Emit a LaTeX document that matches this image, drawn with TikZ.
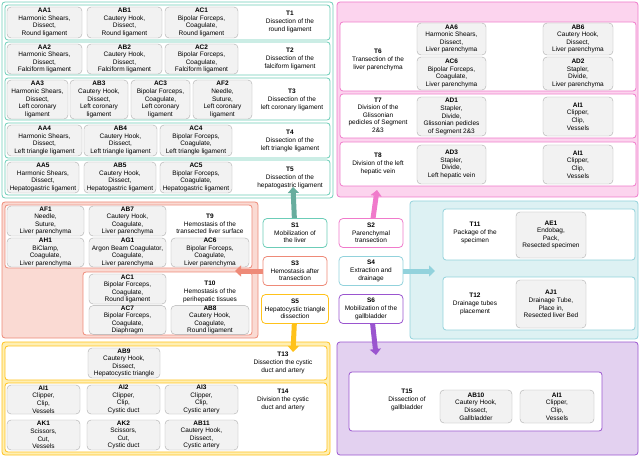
\documentclass[tikz,border=0pt]{standalone}
\usepackage{fontspec}
\setmainfont{Liberation Sans}
\usetikzlibrary{arrows.meta}
\definecolor{tealc}{HTML}{6CCDB8}
\definecolor{pinkc}{HTML}{F07ACB}
\definecolor{pinkf}{HTML}{FCD4EE}
\definecolor{salc}{HTML}{EE8A78}
\definecolor{salf}{HTML}{FADAD3}
\definecolor{bluec}{HTML}{92D2DC}
\definecolor{bluef}{HTML}{DDF1F3}
\definecolor{yelc}{HTML}{FFC21A}
\definecolor{yelf}{HTML}{FFEFB3}
\definecolor{purc}{HTML}{9A55CF}
\definecolor{purf}{HTML}{E3D1F0}
\tikzset{
  frame/.style={draw, rounded corners=3pt, line width=0.8pt, inner sep=0pt, outer sep=0pt},
  act/.style={draw=gray!65, fill=gray!10, rounded corners=4pt, align=center, inner sep=0pt, outer sep=0pt},
  task/.style={align=center},
  stage/.style={draw, fill=white, rounded corners=4pt, line width=0.8pt, align=center, minimum width=64pt, minimum height=29pt},
  fat/.style={line width=5pt, -{Triangle[length=6pt,width=11pt]}}
}
% box from (x1,y1) to (x2,y2)
\newcommand{\boxat}[6]{\node (#1) [#6, minimum width={#4-#2}, minimum height={#5-#3}] at ({(#2+#4)/2},{(#3+#5)/2}) {};}
\newcommand{\act}[6]{\node (#1) [act, minimum width={#4-#2}, minimum height={#5-#3}] at ({(#2+#4)/2},{(#3+#5)/2}) {#6};}
\begin{document}
\begin{tikzpicture}[x=1pt,y=-1pt,font=\fontsize{6.5}{7.6}\selectfont]
\useasboundingbox (0,0) rectangle (640,473);

% containers
\boxat{mob}{2}{2}{333}{198}{frame, draw=tealc, fill=white}
\boxat{par}{337}{2}{638}{197}{frame, draw=pinkc, fill=pinkf}
\boxat{hem}{2}{202}{258}{338}{frame, draw=salc, fill=salf}
\boxat{ext}{410}{201}{638}{339}{frame, draw=bluec, fill=bluef}
\boxat{hep}{2}{342}{330}{455}{frame, draw=yelc, fill=yelf}
\boxat{gal}{337}{342}{638}{455}{frame, draw=purc, fill=purf}

% task rows
\boxat{rT1}{5}{5}{330}{40}{frame, draw=tealc, fill=white}
\boxat{rT2}{5}{42}{330}{75}{frame, draw=tealc, fill=white}
\boxat{rT3}{5}{78}{330}{120}{frame, draw=tealc, fill=white}
\boxat{rT4}{5}{123}{330}{158}{frame, draw=tealc, fill=white}
\boxat{rT5}{5}{160}{330}{195}{frame, draw=tealc, fill=white}
\boxat{rT6}{340}{22}{636}{91}{frame, draw=pinkc, fill=white}
\boxat{rT7}{340}{94}{636}{138}{frame, draw=pinkc, fill=white}
\boxat{rT8}{340}{142}{636}{186}{frame, draw=pinkc, fill=white}
\boxat{rT9}{5}{205}{252}{268}{frame, draw=salc, fill=white}
\boxat{rT10}{83}{272}{252}{335}{frame, draw=salc, fill=white}
\boxat{rT11}{443}{209}{635}{260}{frame, draw=bluec, fill=white}
\boxat{rT12}{443}{277}{635}{330}{frame, draw=bluec, fill=white}
\boxat{rT13}{5}{346}{327}{380}{frame, draw=yelc, fill=white}
\boxat{rT14}{5}{383}{327}{452}{frame, draw=yelc, fill=white}
\boxat{rT15}{349}{372}{602}{431}{frame, draw=purc, fill=white}

% T1 - T5
\act{AA1}{7}{7}{82}{38}{\textbf{AA1}\\Harmonic Shears,\\Dissect,\\Round ligament}
\act{AB1}{87}{7}{162}{38}{\textbf{AB1}\\Cautery Hook,\\Dissect,\\Round ligament}
\act{AC1}{165}{7}{238}{38}{\textbf{AC1}\\Bipolar Forceps,\\Coagulate,\\Round ligament}
\node (T1) at (290,22) [task] {\textbf{T1}\\Dissection of the\\round ligament};
\act{AA2}{7}{44}{82}{74}{\textbf{AA2}\\Harmonic Shears,\\Dissect,\\Falciform ligament}
\act{AB2}{87}{44}{162}{74}{\textbf{AB2}\\Cautery Hook,\\Dissect,\\Falciform ligament}
\act{AC2}{165}{44}{238}{74}{\textbf{AC2}\\Bipolar Forceps,\\Coagulate,\\Falciform ligament}
\node (T2) at (290,59) [task] {\textbf{T2}\\Dissection of the\\falciform ligament};
\act{AA3}{7}{80}{68}{119}{\textbf{AA3}\\Harmonic Shears,\\Dissect,\\Left coronary\\ligament}
\act{AB3}{70}{80}{128}{119}{\textbf{AB3}\\Cautery Hook,\\Dissect,\\Left coronary\\ligament}
\act{AC3}{131}{80}{190}{119}{\textbf{AC3}\\Bipolar Forceps,\\Coagulate,\\Left coronary\\ligament}
\act{AF2}{193}{80}{252}{119}{\textbf{AF2}\\Needle,\\Suture,\\Left coronary\\ligament}
\node (T3) at (292,100) [task] {\textbf{T3}\\Dissection of the\\left coronary ligament};
\act{AA4}{7}{125}{82}{156}{\textbf{AA4}\\Harmonic Shears,\\Dissect,\\Left triangle ligament}
\act{AB4}{84}{125}{157}{156}{\textbf{AB4}\\Cautery Hook,\\Dissect,\\Left triangle ligament}
\act{AC4}{160}{125}{232}{156}{\textbf{AC4}\\Bipolar Forceps,\\Coagulate,\\Left triangle ligament}
\node (T4) at (290,141) [task] {\textbf{T4}\\Dissection of the\\left triangle ligament};
\act{AA5}{7}{162}{79}{193}{\textbf{AA5}\\Harmonic Shears,\\Dissect,\\Hepatogastric ligament}
\act{AB5}{84}{162}{156}{193}{\textbf{AB5}\\Cautery Hook,\\Dissect,\\Hepatogastric ligament}
\act{AC5}{160}{162}{232}{193}{\textbf{AC5}\\Bipolar Forceps,\\Coagulate,\\Hepatogastric ligament}
\node (T5) at (290,178) [task] {\textbf{T5}\\Dissection of the\\hepatogastric ligament};

% T6 - T8
\node (T6) at (378,60) [task] {\textbf{T6}\\Transection of the\\liver parenchyma};
\act{AA6}{417}{23}{486}{55}{\textbf{AA6}\\Harmonic Shears,\\Dissect,\\Liver parenchyma}
\act{AB6}{543}{23}{613}{55}{\textbf{AB6}\\Cautery Hook,\\Dissect,\\Liver parenchyma}
\act{AC6p}{417}{57}{486}{90}{\textbf{AC6}\\Bipolar Forceps,\\Coagulate,\\Liver parenchyma}
\act{AD2}{543}{57}{613}{90}{\textbf{AD2}\\Stapler,\\Divide,\\Liver parenchyma}
\node (T7) at (378,115) [task] {\textbf{T7}\\Division of the\\Glissonian\\pedicles of Segment\\2\&3};
\act{AD1}{417}{97}{486}{136}{\textbf{AD1}\\Stapler,\\Divide,\\Glissonian pedicles\\of Segment 2\&3}
\act{AI1p}{543}{97}{613}{136}{\textbf{AI1}\\Clipper,\\Clip,\\Vessels}
\node (T8) at (378,164) [task] {\textbf{T8}\\Division of the left\\hepatic vein};
\act{AD3}{417}{145}{486}{184}{\textbf{AD3}\\Stapler,\\Divide,\\Left hepatic vein}
\act{AI1q}{543}{145}{613}{184}{\textbf{AI1}\\Clipper,\\Clip,\\Vessels}

% T9 - T10
\act{AF1}{7}{206}{84}{236}{\textbf{AF1}\\Needle,\\Suture,\\Liver parenchyma}
\act{AB7}{89}{206}{166}{236}{\textbf{AB7}\\Cautery Hook,\\Coagulate,\\Liver parenchyma}
\node (T9) at (210,224) [task] {\textbf{T9}\\Hemostasis of the\\transected liver surface};
\act{AH1}{7}{238}{84}{267}{\textbf{AH1}\\BiClamp,\\Coagulate,\\Liver parenchyma}
\act{AG1}{89}{238}{166}{267}{\textbf{AG1}\\Argon Beam Coagulator,\\Coagulate,\\Liver parenchyma}
\act{AC6}{171}{238}{249}{267}{\textbf{AC6}\\Bipolar Forceps,\\Coagulate,\\Liver parenchyma}
\act{AC1h}{89}{274}{166}{304}{\textbf{AC1}\\Bipolar Forceps,\\Coagulate,\\Round ligament}
\node (T10) at (210,292) [task] {\textbf{T10}\\Hemostasis of the\\perihepatic tissues};
\act{AC7}{89}{306}{166}{334}{\textbf{AC7}\\Bipolar Forceps,\\Coagulate,\\Diaphragm}
\act{AB8}{171}{306}{249}{334}{\textbf{AB8}\\Cautery Hook,\\Coagulate,\\Round ligament}

% T11 - T12
\node (T11) at (475,233) [task] {\textbf{T11}\\Package of the\\specimen};
\act{AE1}{516}{212}{586}{258}{\textbf{AE1}\\Endobag,\\Pack,\\Resected specimen}
\node (T12) at (475,304) [task] {\textbf{T12}\\Drainage tubes\\placement};
\act{AJ1}{516}{280}{586}{328}{\textbf{AJ1}\\Drainage Tube,\\Place in,\\Resected liver Bed}

% T13 - T15
\act{AB9}{88}{348}{160}{378}{\textbf{AB9}\\Cautery Hook,\\Dissect,\\Hepatocystic triangle}
\node (T13) at (283,363) [task] {\textbf{T13}\\Dissection the cystic\\duct and artery};
\act{AI1}{7}{385}{80}{414}{\textbf{AI1}\\Clipper,\\Clip,\\Vessels}
\act{AI2}{87}{385}{160}{414}{\textbf{AI2}\\Clipper,\\Clip,\\Cystic duct}
\act{AI3}{165}{385}{238}{414}{\textbf{AI3}\\Clipper,\\Clip,\\Cystic artery}
\node (T14) at (283,400) [task] {\textbf{T14}\\Division the cystic\\duct and artery};
\act{AK1}{7}{420}{80}{450}{\textbf{AK1}\\Scissors,\\Cut,\\Vessels}
\act{AK2}{87}{420}{160}{450}{\textbf{AK2}\\Scissors,\\Cut,\\Cystic duct}
\act{AB11}{165}{420}{238}{450}{\textbf{AB11}\\Cautery Hook,\\Dissect,\\Cystic artery}
\node (T15) at (407,400) [task] {\textbf{T15}\\Dissection of\\gallbladder};
\act{AB10}{440}{390}{512}{423}{\textbf{AB10}\\Cautery Hook,\\Dissect,\\Gallbladder}
\act{AI1g}{520}{390}{594}{423}{\textbf{AI1}\\Clipper,\\Clip,\\Vessels}

% stages
\node (S1) at (295,233) [stage, draw=tealc] {\textbf{S1}\\Mobilization of\\the liver};
\node (S2) at (371,233) [stage, draw=pinkc] {\textbf{S2}\\Parenchymal\\transection};
\node (S3) at (295,271) [stage, draw=salc] {\textbf{S3}\\Hemostasis after\\transection};
\node (S4) at (371,271) [stage, draw=bluec] {\textbf{S4}\\Extraction and\\drainage};
\node (S5) at (295,309) [stage, draw=yelc] {\textbf{S5}\\Hepatocystic triangle\\dissection};
\node (S6) at (371,309) [stage, draw=purc] {\textbf{S6}\\Mobilization of the\\gallbladder};

\coordinate (tip1) at (293,187);
\coordinate (tip2) at (377,190);
\coordinate (tip3) at (235,271);
\coordinate (tip4) at (435,271);
\coordinate (tip5) at (293,352);
\coordinate (tip6) at (376,355);
\draw [fat, draw=tealc!80!black!90] (S1) -- (tip1);
\draw [fat, draw=pinkc] (S2) -- (tip2);
\draw [fat, draw=salc] (S3) -- (tip3);
\draw [fat, draw=bluec] (S4) -- (tip4);
\draw [fat, draw=yelc] (S5) -- (tip5);
\draw [fat, draw=purc] (S6) -- (tip6);
\end{tikzpicture}
\end{document}
